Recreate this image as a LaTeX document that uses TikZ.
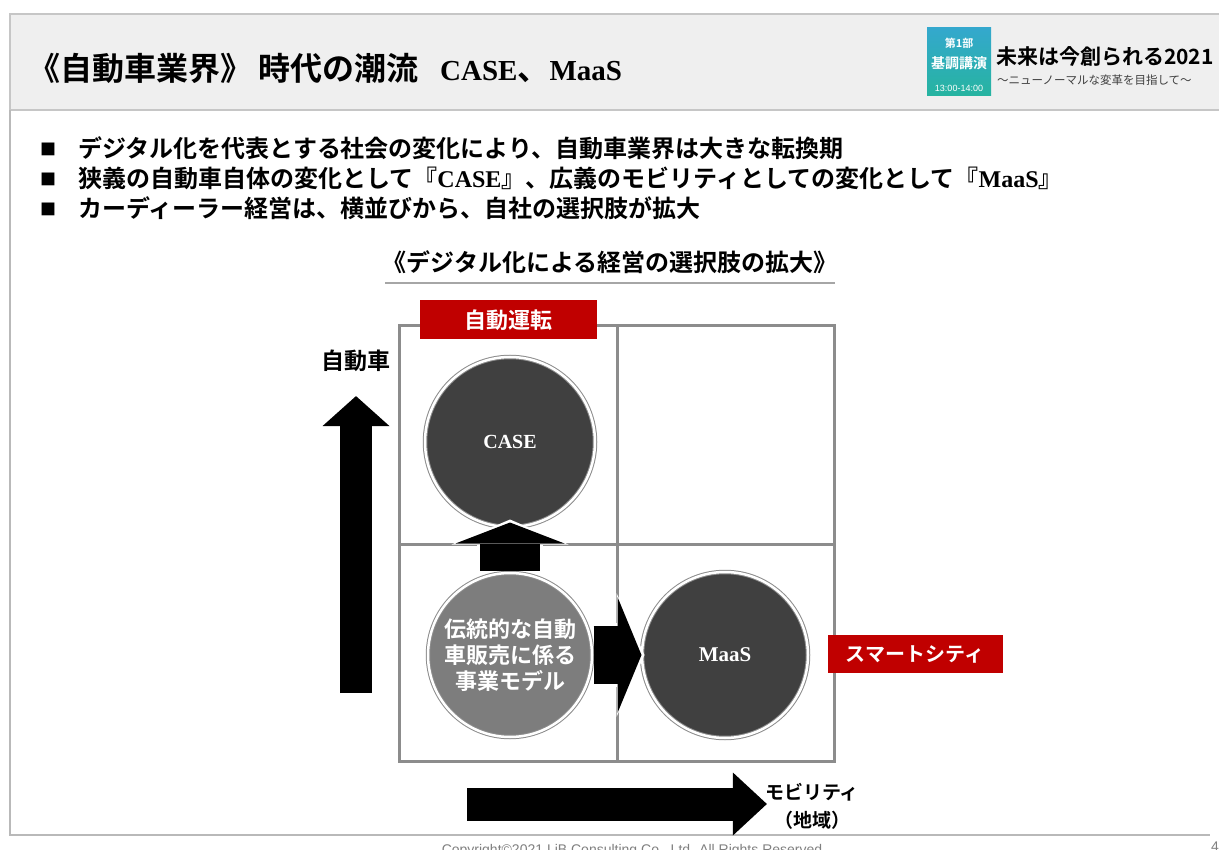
\documentclass[tikz,border=0pt]{standalone}
\usepackage{fontspec}
\setmainfont{Liberation Serif}
\setsansfont{Liberation Sans}
\newfontfamily\jpfont{Noto Sans CJK JP Bold}
\newfontfamily\jpthin{Noto Sans CJK JP}
\usetikzlibrary{positioning, arrows.meta, calc}

\definecolor{slidered}{RGB}{192,0,0}
\definecolor{gridgray}{RGB}{140,140,140}
\definecolor{darkdisc}{RGB}{64,64,64}
\definecolor{middisc}{RGB}{125,125,125}
\definecolor{headgray}{RGB}{239,239,239}
\definecolor{logotop}{RGB}{52,168,205}
\definecolor{logobot}{RGB}{38,180,160}

\newcommand{\setpx}[2]{\fontsize{#1}{#2}\selectfont}
\newcommand{\lat}[1]{{\rmfamily\bfseries #1}}

\begin{document}
\begin{tikzpicture}[x=1pt, y=-1pt, node distance=30pt]
    \tikzstyle{jp} = [inner sep=0pt, font=\jpfont]
    \tikzstyle{bulletline} = [jp, anchor=west, font=\jpfont\setpx{24}{28}]
    \tikzstyle{redtag} = [rectangle, fill=slidered, text=white, minimum width=177pt, minimum height=39pt, font=\jpfont\setpx{22}{22}]
    \tikzstyle{disc} = [circle, minimum size=170pt, draw=gridgray, double=white, double distance=2.5pt, line width=1pt, text=white, align=center]
    \tikzstyle{gridline} = [draw=gridgray, line width=3pt]
    \tikzstyle{upblock} = [line width=60pt, -{Triangle[length=21pt, width=109pt, line width=0pt]}]
    \tikzstyle{upback} = [white, line width=66pt, -{Triangle[length=25pt, width=117pt, line width=0pt]}]
    \tikzstyle{rightblock} = [line width=58pt, -{Triangle[length=24pt, width=116pt, line width=0pt]}]
    \tikzstyle{rightback} = [white, line width=64pt, -{Triangle[length=28pt, width=124pt, line width=0pt]}]
    \tikzstyle{vaxis} = [line width=32pt, -{Triangle[length=30pt, width=67pt, line width=0pt]}]
    \tikzstyle{haxis} = [line width=33pt, -{Triangle[length=34pt, width=63pt, line width=0pt]}]

    \useasboundingbox (0,0) rectangle (1219,850);
    \fill[white] (0,0) rectangle (1219,850);

    % slide frame and header
    \draw[fill=headgray, draw=gray!45, line width=1.5pt] (10,14) rectangle (1240,110);
    \draw[draw=gray!55, line width=1.5pt] (10,110) -- (10,835) -- (1210,835);

    \node (title) [jp, anchor=west, font=\jpfont\setpx{32}{32}] at (28,68)
        {《自動車業界》\hspace{6pt}時代の潮流\hspace{22pt}\lat{\setpx{29}{29}CASE}、\lat{\setpx{29}{29}MaaS}};

    % event logo
    \node (logo) [rectangle, minimum width=64pt, minimum height=68pt, top color=logotop, bottom color=logobot] at (959,62) {};
    \node (logo1) [jp, text=white, font=\jpfont\setpx{11}{11}] at (959,43) {第1部};
    \node (logo2) [jp, text=white, font=\jpfont\setpx{14}{14}] at (959,63) {基調講演};
    \node (logo3) [inner sep=0pt, text=white, font=\sffamily\setpx{9}{9}] at (959,88) {13:00-14:00};
    \node (slogan) [jp, anchor=west, font=\jpfont\setpx{21}{21}] at (996,56) {未来は今創られる2021};
    \node (slogansub) [inner sep=0pt, anchor=west, font=\jpthin\setpx{11.5}{12}, text=black!75] at (997,80) {～ニューノーマルな変革を目指して～};

    % bullets
    \node (b1) [bulletline] at (40,148) {\raisebox{2pt}{\setpx{16}{16}■}\hspace{22pt}デジタル化を代表とする社会の変化により、自動車業界は大きな転換期};
    \node (b2) [bulletline] at (40,178) {\raisebox{2pt}{\setpx{16}{16}■}\hspace{22pt}狭義の自動車自体の変化として『\lat{CASE}』、広義のモビリティとしての変化として『\lat{MaaS}』};
    \node (b3) [bulletline] at (40,208) {\raisebox{2pt}{\setpx{16}{16}■}\hspace{22pt}カーディーラー経営は、横並びから、自社の選択肢が拡大};

    \node (sub) [jp, font=\jpfont\setpx{24}{24}] at (610,262) {《デジタル化による経営の選択肢の拡大》};
    \draw[gray!70, line width=2pt] ($(sub.west)+(3,21)$) -- ($(sub.east)+(-3,21)$);

    % matrix
    \draw[gridline] (399,326) rectangle (834,761);
    \draw[gridline] (617,326) -- (617,761);
    \draw[gridline] (399,544) -- (834,544);

    \node (autodrive) [redtag] at (508,320) {自動運転};
    \node (smartcity) [redtag, minimum width=175pt, minimum height=38pt, font=\jpfont\setpx{20}{20}] at (915,654) {スマートシティ};

    \node (case) [disc, fill=darkdisc, font=\rmfamily\bfseries\setpx{20}{20}] at (510,442) {CASE};
    \node (trad) [disc, fill=middisc, minimum size=164pt, font=\jpfont\setpx{22}{26}] at (510,655) {伝統的な自動\\車販売に係る\\事業モデル};
    \node (maas) [disc, fill=darkdisc, minimum size=166pt, font=\rmfamily\bfseries\setpx{21}{21}] at (725,655) {MaaS};

    \draw[upback, shorten <=2pt, shorten >=-8pt] (trad.north) -- (case.south);
    \draw[upblock, shorten <=2pt, shorten >=-5pt] (trad.north) -- (case.south);
    \draw[rightback, shorten <=1pt, shorten >=-3pt] (trad.east) -- (trad.east -| maas.west);
    \draw[rightblock, shorten <=1pt] (trad.east) -- (trad.east -| maas.west);

    % axes
    \node (car) [jp, font=\jpfont\setpx{23}{23}] at (356,361) {自動車};
    \coordinate (vbase) at (356,693);
    \draw[vaxis, shorten >=24pt] (vbase) -- (car);

    \node (mob) [jp, align=center, font=\jpfont\setpx{19}{28}] at (812,806) {モビリティ\\（地域）};
    \coordinate (hbase) at (467,804);
    \draw[haxis, shorten >=-2pt] (hbase) -- (hbase -| mob.west);

    \node (copy) [inner sep=0pt, text=gray, font=\sffamily\setpx{14}{14}] at (632,851) {Copyright©2021 LiB Consulting Co., Ltd. All Rights Reserved};
    \node (pagenum) [inner sep=0pt, text=gray, font=\sffamily\setpx{14}{14}] at (1215,847) {4};
\end{tikzpicture}
\end{document}
